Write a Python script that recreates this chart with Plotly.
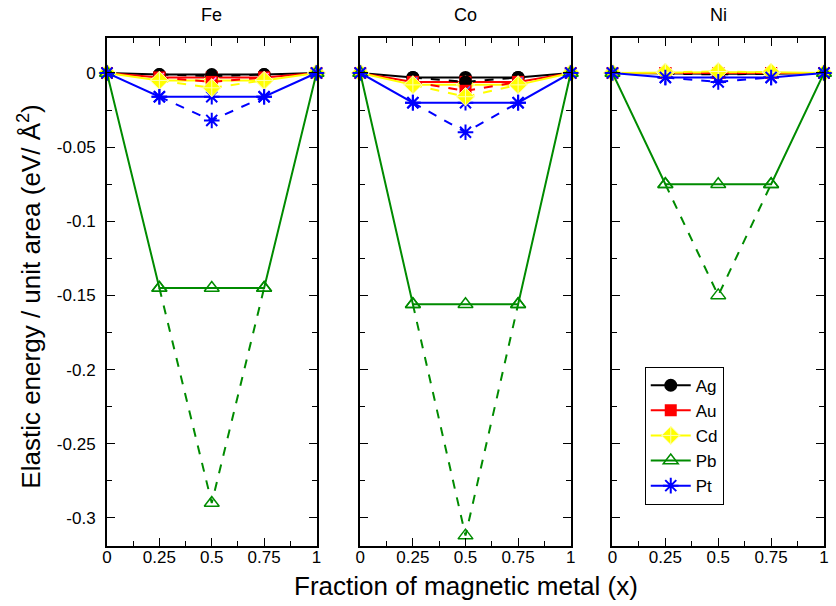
import plotly.graph_objects as go

# ---------------- data ----------------
x_full = [0, 0.25, 0.5, 0.75, 1]
x_mid = [0.25, 0.5, 0.75]
panels = ["Fe", "Co", "Ni"]
series = ["Ag", "Au", "Cd", "Pb", "Pt"]

# solid-line values (x = 0, .25, .5, .75, 1)
fe_solid = {"Ag": [0, -0.001, -0.001, -0.001, 0],
            "Au": [0, -0.003, -0.003, -0.003, 0],
            "Cd": [0, -0.005, -0.005, -0.005, 0],
            "Pb": [0, -0.145, -0.145, -0.145, 0],
            "Pt": [0, -0.016, -0.016, -0.016, 0]}
co_solid = {"Ag": [0, -0.003, -0.003, -0.003, 0],
            "Au": [0, -0.006, -0.006, -0.006, 0],
            "Cd": [0, -0.008, -0.008, -0.008, 0],
            "Pb": [0, -0.156, -0.156, -0.156, 0],
            "Pt": [0, -0.020, -0.020, -0.020, 0]}
ni_solid = {"Ag": [0, -0.0005, -0.0005, -0.0005, 0],
            "Au": [0, 0.0, 0.0, 0.0, 0],
            "Cd": [0, 0.0005, 0.0005, 0.0005, 0],
            "Pb": [0, -0.075, -0.075, -0.075, 0],
            "Pt": [0, -0.003, -0.003, -0.003, 0]}

# dashed-line values (x = .25, .5, .75)
fe_dash = {"Ag": [-0.001, -0.002, -0.001],
           "Au": [-0.003, -0.006, -0.003],
           "Cd": [-0.005, -0.010, -0.005],
           "Pb": [-0.145, -0.290, -0.145],
           "Pt": [-0.016, -0.032, -0.016]}
co_dash = {"Ag": [-0.003, -0.006, -0.003],
           "Au": [-0.006, -0.012, -0.006],
           "Cd": [-0.008, -0.016, -0.008],
           "Pb": [-0.156, -0.312, -0.156],
           "Pt": [-0.020, -0.040, -0.020]}
ni_dash = {"Ag": [-0.0005, -0.001, -0.0005],
           "Au": [0.0, 0.0, 0.0],
           "Cd": [0.0005, 0.001, 0.0005],
           "Pb": [-0.075, -0.150, -0.075],
           "Pt": [-0.003, -0.006, -0.003]}

x_tickvals = [0, 0.25, 0.5, 0.75, 1]
x_ticktext = ["0", "0.25", "0.5", "0.75", "1"]
y_tickvals = [0, -0.05, -0.1, -0.15, -0.2, -0.25, -0.3]
y_ticktext = ["0", "-0.05", "-0.1", "-0.15", "-0.2", "-0.25", "-0.3"]

solids = [fe_solid, co_solid, ni_solid]
dashes = [fe_dash, co_dash, ni_dash]

# ---------------- styles ----------------
FONT = "Liberation Sans, Arial, sans-serif"
colors = {"Ag": "black", "Au": "#ff0000", "Cd": "#ffff00", "Pb": "#008b00", "Pt": "#0000ff"}
markers = {
    "Ag": dict(symbol="circle", size=13, color="black", line=dict(width=0)),
    "Au": dict(symbol="square", size=12, color="#ff0000", line=dict(width=0)),
    "Cd": dict(symbol="diamond-cross", size=14, color="#ffff00", line=dict(color="#ffffb0", width=1)),
    "Pb": dict(symbol="triangle-up-open", size=13, color="#008b00", line=dict(color="#008b00", width=1.5)),
    "Pt": dict(symbol="asterisk-open", size=13, color="#0000ff", line=dict(color="#0000ff", width=2)),
}

domains = [[0, 0.2922], [0.3532, 0.6468], [0.705, 1.0]]

fig = go.Figure()

for i, (sol, das) in enumerate(zip(solids, dashes)):
    xa = "x" if i == 0 else f"x{i+1}"
    ya = "y" if i == 0 else f"y{i+1}"
    for s in series:
        fig.add_trace(go.Scatter(
            x=x_full, y=sol[s], mode="lines+markers", name=s,
            legendgroup=s, showlegend=(i == 2),
            line=dict(color=colors[s], width=2), marker=markers[s],
            xaxis=xa, yaxis=ya, cliponaxis=False))
        if s == "Au":
            fig.add_trace(go.Scatter(
                x=x_full, y=sol[s], mode="markers", showlegend=False, legendgroup=s,
                marker=dict(symbol="line-ne-open", size=9, line=dict(color="white", width=1.5)),
                xaxis=xa, yaxis=ya, cliponaxis=False, hoverinfo="skip"))
    for s in series:
        fig.add_trace(go.Scatter(
            x=x_mid, y=das[s], mode="lines+markers", name=s,
            legendgroup=s, showlegend=False,
            line=dict(color=colors[s], width=2, dash="dash"), marker=markers[s],
            xaxis=xa, yaxis=ya, cliponaxis=False))
        if s == "Au":
            fig.add_trace(go.Scatter(
                x=x_mid, y=das[s], mode="markers", showlegend=False, legendgroup=s,
                marker=dict(symbol="line-ne-open", size=9, line=dict(color="white", width=1.5)),
                xaxis=xa, yaxis=ya, cliponaxis=False, hoverinfo="skip"))

axis_common = dict(showgrid=False, zeroline=False, showline=True, linecolor="black",
                   linewidth=2, mirror="allticks", ticks="inside", tickcolor="black",
                   tickwidth=1, ticklen=8, tickfont=dict(family=FONT, size=17, color="black"))

layout = dict(
    width=836, height=606,
    margin=dict(l=107, r=7, t=38, b=60),
    plot_bgcolor="white", paper_bgcolor="white",
    font=dict(family=FONT, color="black"),
    showlegend=True,
    legend=dict(x=0.75, y=0.353, xanchor="left", yanchor="top",
                bordercolor="black", borderwidth=1, bgcolor="white",
                font=dict(family=FONT, size=17), tracegroupgap=0,
                itemwidth=40),
)
for i in range(3):
    k = "" if i == 0 else str(i + 1)
    layout["xaxis" + k] = dict(axis_common, domain=domains[i], range=[0, 1],
                               tickvals=x_tickvals, ticktext=x_ticktext,
                               anchor="y" + k, ticklabelstandoff=-5,
                               minor=dict(ticks="inside", dtick=0.125, tick0=0, ticklen=5,
                                          tickcolor="black", tickwidth=1))
    layout["yaxis" + k] = dict(axis_common, domain=[0, 1], range=[-0.319, 0.0236],
                               tickvals=y_tickvals, ticktext=y_ticktext,
                               showticklabels=(i == 0), anchor="x" + k,
                               ticklabelstandoff=6,
                               minor=dict(ticks="inside", dtick=0.025, tick0=0, ticklen=5,
                                          tickcolor="black", tickwidth=1))
fig.update_layout(**layout)

annotations = []
for i, name in enumerate(panels):
    cx = (domains[i][0] + domains[i][1]) / 2
    annotations.append(dict(text=name, x=cx, y=1.045, xref="paper", yref="paper",
                            showarrow=False, xanchor="center", yanchor="middle",
                            font=dict(family=FONT, size=18)))
annotations.append(dict(text="Fraction of magnetic metal (x)", x=0.5, y=-0.079,
                        xref="paper", yref="paper", showarrow=False,
                        xanchor="center", yanchor="middle",
                        font=dict(family=FONT, size=26)))
annotations.append(dict(text="Elastic energy / unit area (eV/ Å<sup>2</sup>)", x=-0.108, y=0.49,
                        xref="paper", yref="paper", showarrow=False, textangle=-90,
                        xanchor="center", yanchor="middle",
                        font=dict(family=FONT, size=26)))
fig.update_layout(annotations=annotations)

fig.write_html("out.html")
